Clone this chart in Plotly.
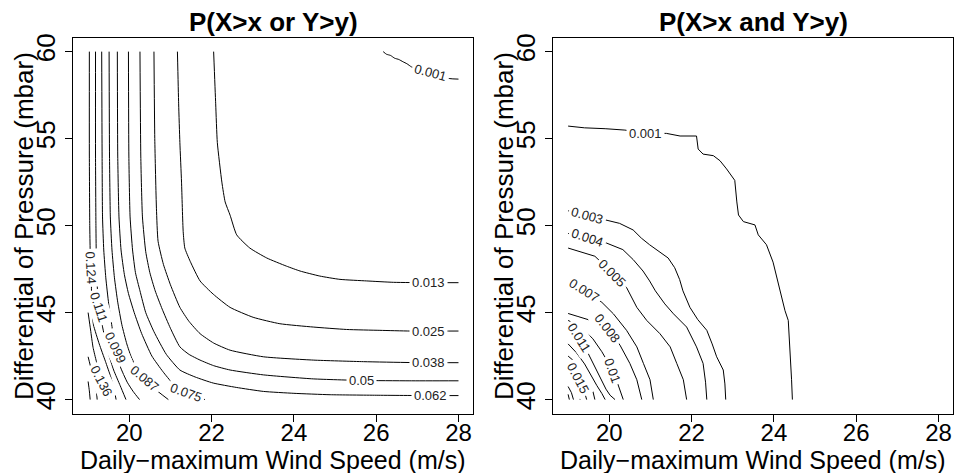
import plotly.graph_objects as go

# ---------------- data: left panel  P(X>x or Y>y) ----------------
x_ticks = [20, 22, 24, 26, 28]
y_ticks = [40, 45, 50, 55, 60]

or_0001_x = [26.17, 26.25, 26.35, 26.45, 26.55, 26.65, 26.75, 26.86, 27.31, 27.79, 28.0]
or_0001_y = [60.0, 59.85, 59.78, 59.62, 59.55, 59.42, 59.30, 59.12, 58.78, 58.45, 58.42]
or_0013_x = [22.05, 22.10, 22.14, 22.25, 22.33, 22.45, 22.61, 22.93, 23.34, 23.82, 24.15, 24.63, 25.12, 25.77, 26.42, 27.26, 28.0]
or_0013_y = [60.0, 57.0, 54.77, 52.5, 51.36, 50.6, 49.47, 48.71, 48.14, 47.67, 47.39, 47.10, 46.91, 46.82, 46.74, 46.72, 46.72]
or_0025_x = [21.17, 21.20, 21.23, 21.27, 21.31, 21.35, 21.48, 21.72, 22.04, 22.45, 23.01, 23.66, 24.47, 25.28, 26.09, 26.82, 28.0]
or_0025_y = [60.0, 57.0, 54.77, 52.5, 49.66, 48.71, 47.95, 46.82, 46.06, 45.30, 44.73, 44.36, 44.17, 44.03, 43.98, 43.94, 43.94]
or_0038_x = [20.60, 20.62, 20.66, 20.70, 20.83, 21.0, 21.23, 21.45, 21.72, 22.05, 22.45, 23.26, 24.47, 25.69, 26.82, 28.0]
or_0038_y = [60.0, 55.0, 51.0, 49.1, 47.77, 46.6, 45.3, 44.5, 43.79, 43.25, 42.84, 42.46, 42.27, 42.18, 42.13, 42.12]
or_0050_x = [20.26, 20.28, 20.32, 20.40, 20.50, 20.63, 20.8, 21.0, 21.23, 21.45, 21.72, 22.05, 22.45, 23.26, 24.47, 25.65, 26.8, 28.0]
or_0050_y = [60.0, 54.0, 50.5, 48.5, 47.3, 46.25, 45.2, 44.1, 43.03, 42.6, 42.27, 41.95, 41.7, 41.42, 41.19, 41.10, 41.08, 41.08]
or_0062_x = [19.98, 19.99, 20.02, 20.08, 20.15, 20.26, 20.4, 20.6, 20.9, 21.23, 21.6, 22.04, 22.6, 23.26, 24.0, 24.88, 26.0, 27.31, 28.0]
or_0062_y = [60.0, 54.0, 50.5, 48.6, 47.3, 46.25, 45.0, 43.9, 42.6, 41.7, 41.3, 40.95, 40.7, 40.47, 40.36, 40.28, 40.25, 40.23, 40.23]
or_0075_x = [19.71, 19.72, 19.75, 19.80, 19.88, 19.98, 20.12, 20.3, 20.55, 20.82, 21.05, 21.38, 21.84]
or_0075_y = [60.0, 54.0, 50.5, 48.6, 47.2, 46.1, 45.0, 43.8, 42.5, 41.6, 40.95, 40.43, 40.0]
or_0087_x = [19.51, 19.52, 19.54, 19.58, 19.64, 19.72, 19.82, 19.94, 20.04, 20.17, 20.37, 20.6, 20.95]
or_0087_y = [60.0, 54.0, 50.5, 48.6, 47.0, 45.6, 44.3, 43.2, 42.5, 41.85, 41.19, 40.65, 40.0]
or_0099_x = [19.33, 19.34, 19.35, 19.38, 19.43, 19.50, 19.58, 19.66, 19.78, 19.95, 20.1, 20.25]
or_0099_y = [60.0, 54.0, 50.5, 48.6, 47.0, 45.5, 44.2, 42.98, 41.9, 41.0, 40.45, 40.0]
or_0111_x = [19.18, 19.18, 19.19, 19.20, 19.22, 19.26, 19.34, 19.42, 19.5, 19.62, 19.78, 19.92]
or_0111_y = [60.0, 54.0, 50.0, 48.0, 46.6, 45.28, 44.3, 43.4, 42.6, 41.7, 40.8, 40.0]
or_0124_x = [19.03, 19.03, 19.04, 19.05, 19.07, 19.08, 19.09, 19.13, 19.27, 19.42, 19.55, 19.63, 19.68]
or_0124_y = [60.0, 54.0, 50.0, 48.6, 47.6, 46.5, 45.3, 44.3, 43.2, 42.2, 41.3, 40.6, 40.0]
or_0136_x = [19.0, 19.06, 19.12, 19.2, 19.33, 19.42, 19.46]
or_0136_y = [45.0, 44.0, 43.0, 42.2, 41.05, 40.4, 40.0]
or_0148_x = [19.0, 19.08, 19.15, 19.2, 19.22]
or_0148_y = [42.46, 41.7, 41.0, 40.5, 40.0]
or_0160_x = [19.0, 19.03, 19.05]
or_0160_y = [41.04, 40.5, 40.0]

or_lab_text = ["0.001", "0.013", "0.025", "0.038", "0.05", "0.062", "0.075", "0.087", "0.099", "0.111", "0.124", "0.136"]
or_lab_x = [27.31, 27.26, 27.26, 27.26, 25.65, 27.31, 21.38, 20.37, 19.66, 19.26, 19.07, 19.33]
or_lab_y = [58.78, 46.72, 43.94, 42.12, 41.08, 40.23, 40.43, 41.19, 42.98, 45.28, 47.6, 41.05]

# ---------------- data: right panel  P(X>x and Y>y) ----------------
and_0001_x = [19.0, 19.4, 19.9, 20.38, 20.88, 21.39, 21.72, 22.12, 22.16, 22.28, 22.53, 22.69, 22.85, 23.05, 23.10, 23.14, 23.26, 23.54, 23.62, 23.82, 23.98, 24.15, 24.27, 24.35, 24.39, 24.43, 24.45]
and_0001_y = [55.72, 55.62, 55.57, 55.49, 55.32, 55.30, 55.15, 55.15, 54.4, 54.11, 54.02, 53.73, 53.26, 52.6, 51.36, 50.61, 50.23, 50.04, 49.47, 48.9, 47.9, 46.25, 45.11, 44.55, 43.03, 41.14, 40.0]
and_0003_x = [19.0, 19.46, 19.93, 20.25, 20.58, 20.78, 20.98, 21.14, 21.43, 21.59, 21.71, 21.79, 21.96, 22.15, 22.37, 22.5, 22.61, 22.77, 22.81, 22.83]
and_0003_y = [50.85, 50.6, 50.32, 50.13, 49.75, 49.28, 48.9, 48.62, 48.14, 47.58, 46.9, 46.25, 45.3, 44.6, 43.98, 43.2, 42.46, 41.7, 40.9, 40.0]
and_0004_x = [19.0, 19.46, 19.93, 20.33, 20.58, 20.82, 20.98, 21.12, 21.35, 21.56, 21.88, 22.12, 22.28, 22.34, 22.37]
and_0004_y = [49.55, 49.3, 49.0, 48.62, 48.05, 47.39, 46.82, 46.25, 45.5, 44.93, 44.17, 43.03, 42.08, 41.0, 40.0]
and_0005_x = [19.0, 19.29, 19.65, 20.08, 20.42, 20.67, 20.91, 21.23, 21.48, 21.64, 21.80, 21.88]
and_0005_y = [48.71, 48.52, 48.24, 47.27, 46.44, 45.30, 44.55, 43.79, 43.03, 42.08, 41.14, 40.0]
and_0007_x = [19.0, 19.40, 19.82, 20.10, 20.42, 20.67, 20.83, 20.99, 21.07]
and_0007_y = [46.75, 46.28, 45.59, 44.93, 43.98, 43.03, 42.08, 41.14, 40.0]
and_0008_x = [19.0, 19.3, 19.62, 19.96, 20.26, 20.50, 20.67, 20.79]
and_0008_y = [44.95, 44.75, 44.5, 44.09, 43.13, 42.08, 41.14, 40.0]
and_0010_x = [19.0, 19.3, 19.6, 19.82, 19.98, 20.08, 20.2, 20.28, 20.34]
and_0010_y = [44.55, 44.2, 43.5, 42.75, 42.1, 41.68, 40.95, 40.45, 40.0]
and_0011_x = [19.0, 19.26, 19.45, 19.6, 19.76, 19.92, 20.02, 20.14]
and_0011_y = [44.25, 43.55, 42.83, 42.1, 41.3, 40.6, 40.25, 40.0]
and_0012_x = [19.0, 19.2, 19.4, 19.55, 19.7, 19.82, 19.9]
and_0012_y = [43.2, 42.7, 42.05, 41.4, 40.8, 40.35, 40.0]
and_0014_x = [19.0, 19.25, 19.45, 19.58, 19.65]
and_0014_y = [42.5, 42.0, 41.3, 40.7, 40.0]
and_0015_x = [19.0, 19.24, 19.38, 19.45]
and_0015_y = [41.95, 41.19, 40.6, 40.0]
and_0016_x = [19.0, 19.12, 19.22, 19.29]
and_0016_y = [41.3, 40.8, 40.35, 40.0]
and_0018_x = [19.0, 19.08, 19.13]
and_0018_y = [40.75, 40.4, 40.0]
and_0019_x = [19.0, 19.03]
and_0019_y = [40.3, 40.0]

and_lab_text = ["0.001", "0.003", "0.004", "0.005", "0.007", "0.008", "0.01", "0.011", "0.015"]
and_lab_x = [20.88, 19.46, 19.46, 20.08, 19.40, 19.96, 20.08, 19.26, 19.24]
and_lab_y = [55.32, 50.6, 49.3, 47.27, 46.28, 44.09, 41.68, 43.55, 41.19]

# ---------------- styles ----------------
or_lab_angle = [15, 0, 0, 0, 0, 0, 20, 40, 65, 72, 87, 63]
and_lab_angle = [0, 16, 18, 45, 32, 52, 70, 58, 62]

FONT = "Liberation Sans, Arial, Helvetica, sans-serif"
W, H = 955, 473
LEFT_DOM = [73.3 / W, 473.3 / W]
RIGHT_DOM = [553.3 / W, 953.3 / W]
Y_DOM = [1 - 413 / H, 1 - 34 / H]

or_curves = [
    (or_0001_x, or_0001_y), (or_0013_x, or_0013_y), (or_0025_x, or_0025_y),
    (or_0038_x, or_0038_y), (or_0050_x, or_0050_y), (or_0062_x, or_0062_y),
    (or_0075_x, or_0075_y), (or_0087_x, or_0087_y), (or_0099_x, or_0099_y),
    (or_0111_x, or_0111_y), (or_0124_x, or_0124_y), (or_0136_x, or_0136_y),
    (or_0148_x, or_0148_y), (or_0160_x, or_0160_y),
]
and_curves = [
    (and_0001_x, and_0001_y), (and_0003_x, and_0003_y), (and_0004_x, and_0004_y),
    (and_0005_x, and_0005_y), (and_0007_x, and_0007_y), (and_0008_x, and_0008_y),
    (and_0010_x, and_0010_y), (and_0011_x, and_0011_y), (and_0012_x, and_0012_y),
    (and_0014_x, and_0014_y), (and_0015_x, and_0015_y), (and_0016_x, and_0016_y),
    (and_0018_x, and_0018_y), (and_0019_x, and_0019_y),
]

fig = go.Figure()
smooth_line = dict(color="black", width=1, shape="spline", smoothing=0.5)
step_line = dict(color="black", width=1)
for xs, ys in or_curves:
    fig.add_trace(go.Scatter(x=xs, y=ys, mode="lines", line=smooth_line,
                             xaxis="x", yaxis="y", hoverinfo="skip", showlegend=False))
for xs, ys in and_curves:
    fig.add_trace(go.Scatter(x=xs, y=ys, mode="lines", line=step_line,
                             xaxis="x2", yaxis="y2", hoverinfo="skip", showlegend=False))

annotations = []
for t, x, y, a in zip(or_lab_text, or_lab_x, or_lab_y, or_lab_angle):
    annotations.append(dict(text=t, x=x, y=y, xref="x", yref="y", showarrow=False,
                            textangle=a, bgcolor="white", borderpad=2,
                            font=dict(family=FONT, size=13, color="#222")))
for t, x, y, a in zip(and_lab_text, and_lab_x, and_lab_y, and_lab_angle):
    annotations.append(dict(text=t, x=x, y=y, xref="x2", yref="y2", showarrow=False,
                            textangle=a, bgcolor="white", borderpad=2,
                            font=dict(family=FONT, size=13, color="#222")))

titles = ["P(X>x or Y>y)", "P(X>x and Y>y)"]
for dom, title in zip([LEFT_DOM, RIGHT_DOM], titles):
    cx = (dom[0] + dom[1]) / 2
    annotations.append(dict(text="<b>" + title + "</b>", x=cx, y=1 - 18 / H,
                            xref="paper", yref="paper", showarrow=False,
                            xanchor="center", yanchor="middle",
                            font=dict(family=FONT, size=26, color="black")))
    annotations.append(dict(text="Daily\u2212maximum Wind Speed (m/s)", x=cx, y=1 - 460 / H,
                            xref="paper", yref="paper", showarrow=False,
                            xanchor="center", yanchor="middle",
                            font=dict(family=FONT, size=25, color="black")))
    annotations.append(dict(text="Differential of Pressure (mbar)", x=dom[0] - 50 / W,
                            y=(Y_DOM[0] + Y_DOM[1]) / 2,
                            xref="paper", yref="paper", showarrow=False, textangle=-90,
                            xanchor="center", yanchor="middle",
                            font=dict(family=FONT, size=26, color="black")))

def xaxis(dom, anchor):
    return dict(domain=dom, anchor=anchor, range=[18.64, 28.36], tickvals=x_ticks,
                ticks="outside", ticklen=7, tickcolor="black", tickwidth=1,
                ticklabelposition="outside", ticklabelstandoff=-9,
                showline=True, mirror=True, linecolor="black", linewidth=1,
                showgrid=False, zeroline=False,
                tickfont=dict(family=FONT, size=24, color="black"))

def yaxis(anchor):
    return dict(domain=Y_DOM, anchor=anchor, range=[39.2, 60.8], tickvals=y_ticks,
                ticks="outside", ticklen=7, tickcolor="black", tickwidth=1, tickangle=-90,
                showline=True, mirror=True, linecolor="black", linewidth=1,
                showgrid=False, zeroline=False,
                tickfont=dict(family=FONT, size=26, color="black"))

fig.update_layout(
    width=W, height=H, margin=dict(l=0, r=0, t=0, b=0),
    paper_bgcolor="white", plot_bgcolor="white",
    xaxis=xaxis(LEFT_DOM, "y"), yaxis=yaxis("x"),
    xaxis2=xaxis(RIGHT_DOM, "y2"), yaxis2=yaxis("x2"),
    annotations=annotations, showlegend=False,
)

fig.write_html("out.html")
